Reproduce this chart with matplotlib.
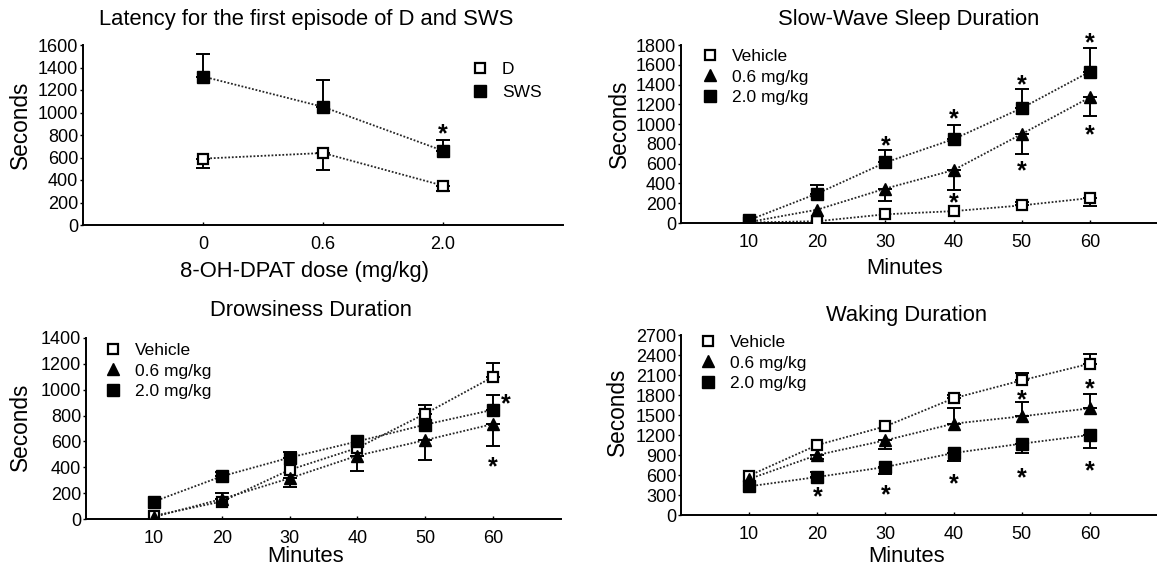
import numpy as np
import matplotlib
matplotlib.use('Agg')
import matplotlib.pyplot as plt
from matplotlib.lines import Line2D

plt.rcParams['font.family'] = ['Liberation Sans', 'DejaVu Sans']

W, H = 1157, 568

# ---------------- data ----------------
# Panel A: latency
dose_labels = ['0', '0.6', '2.0']
lat_D = [590, 640, 350]
lat_D_err_lo = [85, 150, 50]
lat_D_err_hi = [0, 0, 0]
lat_SWS = [1320, 1050, 660]
lat_SWS_err_lo = [0, 0, 0]
lat_SWS_err_hi = [200, 240, 100]
lat_star_x = [2]
lat_star_y = [870]

minutes = [10, 20, 30, 40, 50, 60]

# Panel B: slow-wave sleep duration
sws_veh = [5, 18, 88, 120, 178, 252]
sws_veh_lo = [0, 0, 0, 0, 0, 80]
sws_veh_hi = [0, 0, 0, 0, 30, 0]
sws_06 = [10, 135, 348, 535, 900, 1270]
sws_06_lo = [0, 0, 125, 200, 205, 190]
sws_06_hi = [0, 0, 0, 0, 0, 0]
sws_20 = [30, 298, 612, 848, 1162, 1530]
sws_20_lo = [0, 0, 0, 0, 0, 0]
sws_20_hi = [0, 88, 130, 145, 190, 240]
sws_star_x = [30, 40, 40, 50, 50, 60, 60]
sws_star_y = [847, 1121, 265, 1466, 589, 1890, 954]

# Panel C: drowsiness duration
dr_veh = [25, 135, 380, 550, 815, 1100]
dr_veh_lo = [0, 0, 0, 0, 0, 0]
dr_veh_hi = [0, 0, 0, 0, 65, 110]
dr_06 = [15, 155, 315, 490, 610, 735]
dr_06_lo = [0, 0, 65, 120, 155, 173]
dr_06_hi = [0, 45, 0, 0, 0, 0]
dr_20 = [135, 330, 475, 600, 730, 845]
dr_20_lo = [0, 0, 0, 0, 0, 0]
dr_20_hi = [0, 35, 40, 0, 0, 115]
dr_star_x = [61.8, 60]
dr_star_y = [943, 456]

# Panel D: waking duration
wk_veh = [590, 1050, 1330, 1750, 2020, 2270]
wk_veh_lo = [0, 0, 0, 0, 0, 0]
wk_veh_hi = [0, 0, 0, 50, 110, 150]
wk_06 = [540, 900, 1120, 1370, 1480, 1600]
wk_06_lo = [0, 60, 130, 0, 0, 0]
wk_06_hi = [0, 0, 0, 230, 220, 220]
wk_20 = [430, 570, 720, 930, 1070, 1200]
wk_20_lo = [0, 0, 110, 120, 140, 190]
wk_20_hi = [0, 80, 0, 0, 0, 0]
wk_star_x = [20, 30, 40, 50, 60, 50, 60]
wk_star_y = [366, 401, 567, 652, 753, 1822, 1988]

legend_labels = ['Vehicle', '0.6 mg/kg', '2.0 mg/kg']

# ---------------- styles ----------------
LINE = dict(color='0.15', lw=1.3, ls=(0, (1, 1)), zorder=2)
STY_OPEN = dict(marker='s', ms=7.5, mfc='white', mec='black', mew=1.6)
STY_TRI = dict(marker='^', ms=8.5, mfc='black', mec='black', mew=1)
STY_SQ = dict(marker='s', ms=8, mfc='black', mec='black', mew=1)
TICK_FS = 13
TITLE_FS = 15.8
LABEL_FS = 15.8
YLABEL_FS = 16.3
LEG_FS = 12.5
STAR_FS = 18


def fx(x):
    return x / W


def fy(y):
    return 1 - y / H


fig = plt.figure(figsize=(W / 100, H / 100), dpi=100)


def make_ax(l, r, t, b):
    ax = fig.add_axes([fx(l), fy(b), fx(r) - fx(l), fy(t) - fy(b)])
    for s in ('top', 'right'):
        ax.spines[s].set_visible(False)
    for s in ('left', 'bottom'):
        ax.spines[s].set_linewidth(1.4)
    ax.tick_params(axis='y', direction='out', length=2, width=1, pad=1.5,
                   labelsize=TICK_FS)
    ax.tick_params(axis='x', direction='in', length=2, width=1, pad=8,
                   labelsize=TICK_FS)
    ax.patch.set_alpha(0)
    return ax


def series(ax, x, y, lo, hi, sty):
    x = np.asarray(x, float)
    y = np.asarray(y, float)
    lo = np.asarray(lo, float)
    hi = np.asarray(hi, float)
    ax.plot(x, y, **LINE)
    m = (lo > 0) | (hi > 0)
    if m.any():
        ax.errorbar(x[m], y[m], yerr=[lo[m], hi[m]], fmt='none', ecolor='black',
                    elinewidth=1.4, capsize=5, capthick=1.4, zorder=3)
    ax.plot(x, y, ls='none', zorder=4, **sty)


def stars(ax, xs, ys):
    for x, y in zip(xs, ys):
        ax.annotate('*', xy=(x, y), xytext=(0, -0.56 * STAR_FS),
                    textcoords='offset points', ha='center', va='baseline',
                    fontsize=STAR_FS, fontweight='bold', annotation_clip=False)


def legend(ax, handles, labels, x_marker, y_top, spacing):
    leg = ax.legend(handles, labels, loc='upper left',
                    bbox_to_anchor=(fx(x_marker), fy(y_top)),
                    bbox_transform=fig.transFigure, frameon=False,
                    fontsize=LEG_FS, handlelength=0.0, handletextpad=1.25,
                    borderpad=0, borderaxespad=0, labelspacing=spacing,
                    numpoints=1)
    return leg


def ftext(x, y, s, **kw):
    fig.text(fx(x), fy(y), s, ha='center', va='center', **kw)


h_open = Line2D([], [], ls='none', **STY_OPEN)
h_tri = Line2D([], [], ls='none', **STY_TRI)
h_sq = Line2D([], [], ls='none', **STY_SQ)

# ---------------- Panel A ----------------
ax1 = make_ax(83, 563, 45, 225)
xd = np.arange(len(dose_labels))
series(ax1, xd, lat_D, lat_D_err_lo, lat_D_err_hi, STY_OPEN)
series(ax1, xd, lat_SWS, lat_SWS_err_lo, lat_SWS_err_hi, STY_SQ)
stars(ax1, lat_star_x, lat_star_y)
ax1.set_xlim(-1, 3)
ax1.set_ylim(0, 1600)
ax1.set_xticks(xd)
ax1.set_xticklabels(dose_labels)
ax1.set_yticks(np.arange(0, 1601, 200))
legend(ax1, [h_open, h_sq], ['D', 'SWS'], 480, 62, 0.45)
ftext(306, 19, 'Latency for the first episode of D and SWS', fontsize=TITLE_FS)
ftext(305, 271, '8-OH-DPAT dose (mg/kg)', fontsize=LABEL_FS)
ftext(20, 125, 'Seconds', fontsize=YLABEL_FS, rotation=90)

# ---------------- Panel B ----------------
ax2 = make_ax(681, 1158, 45, 223)
series(ax2, minutes, sws_veh, sws_veh_lo, sws_veh_hi, STY_OPEN)
series(ax2, minutes, sws_06, sws_06_lo, sws_06_hi, STY_TRI)
series(ax2, minutes, sws_20, sws_20_lo, sws_20_hi, STY_SQ)
stars(ax2, sws_star_x, sws_star_y)
ax2.set_xlim(0, 70)
ax2.set_ylim(0, 1800)
ax2.set_xticks(minutes)
ax2.set_yticks(np.arange(0, 1801, 200))
legend(ax2, [h_open, h_tri, h_sq], legend_labels, 710, 49, 0.3)
ftext(909, 19, 'Slow-Wave Sleep Duration', fontsize=TITLE_FS)
ftext(905, 268, 'Minutes', fontsize=LABEL_FS)
ftext(619, 124, 'Seconds', fontsize=YLABEL_FS, rotation=90)

# ---------------- Panel C ----------------
ax3 = make_ax(86, 561, 338, 519)
series(ax3, minutes, dr_veh, dr_veh_lo, dr_veh_hi, STY_OPEN)
series(ax3, minutes, dr_06, dr_06_lo, dr_06_hi, STY_TRI)
series(ax3, minutes, dr_20, dr_20_lo, dr_20_hi, STY_SQ)
stars(ax3, dr_star_x, dr_star_y)
ax3.set_xlim(0, 70)
ax3.set_ylim(0, 1400)
ax3.set_xticks(minutes)
ax3.set_yticks(np.arange(0, 1401, 200))
legend(ax3, [h_open, h_tri, h_sq], legend_labels, 113, 343, 0.3)
ftext(311, 311, 'Drowsiness Duration', fontsize=TITLE_FS)
ftext(306, 557, 'Minutes', fontsize=LABEL_FS)
ftext(20, 427, 'Seconds', fontsize=YLABEL_FS, rotation=90)

# ---------------- Panel D ----------------
ax4 = make_ax(681, 1158, 335, 515)
series(ax4, minutes, wk_veh, wk_veh_lo, wk_veh_hi, STY_OPEN)
series(ax4, minutes, wk_06, wk_06_lo, wk_06_hi, STY_TRI)
series(ax4, minutes, wk_20, wk_20_lo, wk_20_hi, STY_SQ)
stars(ax4, wk_star_x, wk_star_y)
ax4.set_xlim(0, 70)
ax4.set_ylim(0, 2700)
ax4.set_xticks(minutes)
ax4.set_yticks(np.arange(0, 2701, 300))
legend(ax4, [h_open, h_tri, h_sq], legend_labels, 708, 335, 0.3)
ftext(907, 315, 'Waking Duration', fontsize=TITLE_FS)
ftext(907, 557, 'Minutes', fontsize=LABEL_FS)
ftext(617, 412, 'Seconds', fontsize=YLABEL_FS, rotation=90)

fig.savefig('out.png', dpi=100)
